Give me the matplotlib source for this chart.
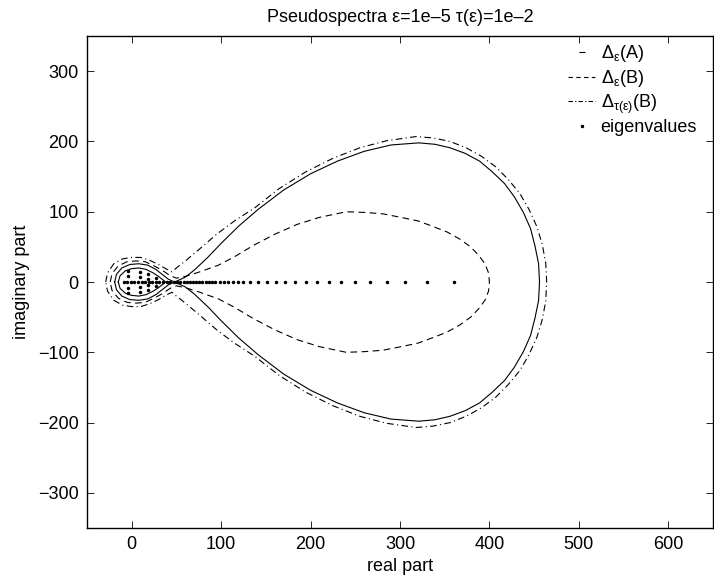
# Pseudospectra of A and B, with the eigenvalues of A

import numpy as np
import matplotlib.pyplot as plt
from matplotlib.lines import Line2D

plt.rcParams['font.family'] = ['Liberation Sans', 'DejaVu Sans']
plt.rcParams['mathtext.fontset'] = 'custom'
plt.rcParams['mathtext.rm'] = 'Liberation Sans'
plt.rcParams['mathtext.it'] = 'Liberation Sans:italic'

# upper halves of the level curves (real part, imaginary part)
epsA_big_x = [48, 60, 70, 85, 100, 120, 142, 170, 200, 230, 260, 290, 321, 339, 356,
              373, 389, 403, 417, 428, 438, 446, 451, 455, 456]
epsA_big_y = [0, 7, 17, 35, 55, 80, 104, 131, 154, 172, 186, 195, 198, 196, 191,
              183, 172, 157, 140, 121, 99, 76, 51, 26, 0]
epsA_small_x = [-19, -17, -11, -2, 8, 18, 27, 35, 41, 48]
epsA_small_y = [0, 11, 20, 25, 26, 24, 18, 10, 4, 0]
epsA_inner_x = [-15, -13, -7, 0, 8, 16, 24, 30, 35, 38]
epsA_inner_y = [0, 9, 16, 19, 20, 18, 13, 8, 3, 0]

epsB_x = [-24, -22, -15, -5, 5, 15, 25, 35, 43, 50, 60, 75, 97, 115, 136, 160, 185, 210,
          240, 261, 281, 301, 320, 337, 353, 367, 379, 388, 395, 399, 400]
epsB_y = [0, 12, 23, 29, 30, 29, 23, 16, 9, 5.5, 8, 14, 24, 36, 52, 68, 82, 92,
          100, 99, 97, 92, 87, 79, 71, 61, 50, 38, 26, 13, 0]

tauB_x = [-29, -27, -20, -10, 0, 10, 20, 30, 38, 45, 49, 60, 75, 95, 115, 138, 165, 195,
          225, 255, 285, 318, 337, 356, 374, 391, 407, 421, 434, 444, 453, 459, 463, 464]
tauB_y = [0, 13, 26, 33, 35, 35, 31, 25, 19, 14.5, 19, 30, 46, 68, 87, 106, 133, 157,
          176, 191, 201, 207, 205, 200, 191, 179, 164, 146, 126, 104, 79, 54, 27, 0]

# eigenvalues
eig_re = [-9, -5, -1, 3, 7, 11, 15, 19, 23, 27, 31, 35, 39, 43, 47, 51, 54.5, 58, 61.5,
          65, 68.5, 72, 75.5, 78.8, 82.6, 86.3, 90, 93.7, 98.2, 103, 107.9, 113, 118.6,
          124.5, 132.8, 141.3, 151.4, 161.4, 171.9, 183, 194.9, 207.1, 220.2, 234.4,
          249.2, 266.7, 285.3, 305.8, 330.7, 360.8]
eig_im = [0] * len(eig_re)
eig_cre = [-4, -4, 9, 9, 18, 18, 27]
eig_cim = [16, 8, 14.5, 7, 11, 4.5, 5.5]


def closed(xs, ys):
    xs = np.asarray(xs, float)
    ys = np.asarray(ys, float)
    return np.r_[xs, xs[::-1]], np.r_[ys, -ys[::-1]]


fig = plt.figure(figsize=(7.14, 5.85), dpi=100)
ax = fig.add_axes([0.1218, 0.0974, 0.8768, 0.841])

lw = 0.8
for xs, ys in [(epsA_big_x, epsA_big_y), (epsA_small_x, epsA_small_y),
               (epsA_inner_x, epsA_inner_y)]:
    cx, cy = closed(xs, ys)
    ax.plot(cx, cy, color='k', lw=lw, ls='-')
cx, cy = closed(epsB_x, epsB_y)
ax.plot(cx, cy, color='k', lw=lw, ls=(0, (6, 4)))
cx, cy = closed(tauB_x, tauB_y)
ax.plot(cx, cy, color='k', lw=lw, ls=(0, (6, 3, 1, 3)))

ex = eig_re + eig_cre + eig_cre
ey = eig_im + eig_cim + [-v for v in eig_cim]
ax.plot(ex, ey, ls='none', marker='.', ms=3, color='k')

ax.set_xlim(-50, 650)
ax.set_ylim(-350, 350)
ax.set_xticks(range(0, 601, 100))
ax.set_yticks(range(-300, 301, 100))
ax.tick_params(direction='in', top=True, right=True, length=5, width=0.6, labelsize=13)
ax.tick_params(axis='x', pad=6)
ax.tick_params(axis='y', pad=6)
for s in ax.spines.values():
    s.set_linewidth(1.0)

ax.set_xlabel('real part', fontsize=13, labelpad=3)
ax.set_ylabel('imaginary part', fontsize=13, labelpad=6)
ax.set_title('Pseudospectra ε=1e–5 τ(ε)=1e–2', fontsize=13, pad=10)

handles = [
    Line2D([], [], ls='none', marker='_', ms=5, mew=0.8, color='k'),
    Line2D([], [], ls=(0, (4, 3)), lw=lw, color='k'),
    Line2D([], [], ls=(0, (4, 2, 1, 2)), lw=lw, color='k'),
    Line2D([], [], ls='none', marker='.', ms=3, color='k'),
]
labels = [r'$\mathrm{\Delta_{ε}}$(A)', r'$\mathrm{\Delta_{ε}}$(B)',
          r'$\mathrm{\Delta_{τ(ε)}}$(B)', 'eigenvalues']
ax.legend(handles, labels, loc='upper left', bbox_to_anchor=(0.757, 1.0),
          frameon=False, fontsize=13, handlelength=1.5, handletextpad=0.3,
          labelspacing=0.2, borderaxespad=0)

fig.savefig('out.png', dpi=100)
plt.close()
